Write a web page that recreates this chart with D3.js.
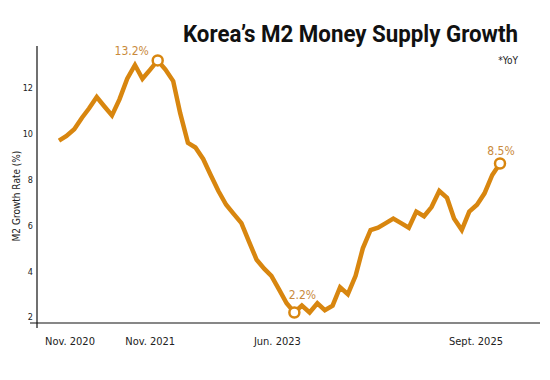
<!DOCTYPE html>
<html>
<head>
<meta charset="utf-8">
<script src="https://cdn.jsdelivr.net/npm/d3@7"></script>
<style>
    body { margin: 0; background: #fff; }
    svg { display: block; }
</style>
</head>
<body>
<svg id="chart" width="550" height="380"></svg>
<script>
/*
data: Korea M2 growth, YoY %, monthly from Nov. 2020 to Sept. 2025
*/
var firstMonth = "2020-11";
var lastMonth = "2025-09";
var m2Growth = [
    9.7, 9.9, 10.2, 10.7, 11.1, 11.6, 11.2, 10.8, 11.5, 12.4,
    13.0, 12.4, 12.8, 13.2, 12.8, 12.3, 10.9, 9.6, 9.4, 8.9,
    8.2, 7.5, 6.9, 6.5, 6.1, 5.3, 4.5, 4.1, 3.8, 3.2,
    2.6, 2.2, 2.5, 2.2, 2.6, 2.3, 2.5, 3.3, 3.0, 3.8,
    5.0, 5.8, 5.9, 6.1, 6.3, 6.1, 5.9, 6.6, 6.4, 6.8,
    7.5, 7.2, 6.3, 5.8, 6.6, 6.9, 7.4, 8.2, 8.7
];
var yTicks = [2, 4, 6, 8, 10, 12];
var xTickMonths = ["2020-11", "2021-11", "2023-06", "2025-09"];
var xTickLabels = ["Nov. 2020", "Nov. 2021", "Jun. 2023", "Sept. 2025"];
var markMonths = ["2021-12", "2023-06", "2025-09"];
var markLabels = ["13.2%", "2.2%", "8.5%"];

// layout (not data)
var xTickNudge = [11, 0, -17, -24];
var markLabelOffset = [{dx: -26, dy: -5}, {dx: 8, dy: -13}, {dx: 1, dy: -9}];

var orange = "#d8860f";
var labelOrange = "#c98a3c";
var numFont = "'DejaVu Sans Condensed', 'Liberation Sans Narrow', Roboto, sans-serif";

var parseMonth = d3.timeParse("%Y-%m");
var months = d3.timeMonth.range(parseMonth(firstMonth), d3.timeMonth.offset(parseMonth(lastMonth), 1));
var series = months.map(function(d, i){ return {date: d, value: m2Growth[i]}; });

var svg = d3.select("#chart");

var x = d3.scaleTime()
    .domain([parseMonth(firstMonth), parseMonth(lastMonth)])
    .range([59, 500]);

var y = d3.scaleLinear()
    .domain([1.74, 13.83])
    .range([323, 46]);

/*
axes: plain lines crossing at the lower left corner
*/
svg.append("line")
    .attr("x1", 37).attr("x2", 37)
    .attr("y1", y.range()[1]).attr("y2", 328)
    .style("stroke", "#111").style("stroke-width", 1.2);

svg.append("line")
    .attr("x1", 30).attr("x2", 540)
    .attr("y1", y.range()[0]).attr("y2", y.range()[0])
    .style("stroke", "#111").style("stroke-width", 1.2);

var yAxis = svg.append("g")
    .attr("transform", "translate(35,0)")
    .call(d3.axisLeft(y).tickValues(yTicks).tickSize(0).tickPadding(2));
yAxis.select(".domain").remove();
yAxis.selectAll("text")
    .style("font-family", numFont)
    .style("font-size", "9px")
    .style("fill", "#222");

svg.selectAll(".xlabel")
    .data(xTickMonths)
    .enter().append("text")
    .attr("class", "xlabel")
    .attr("x", function(d, i){ return x(parseMonth(d)) + xTickNudge[i]; })
    .attr("y", 345)
    .attr("text-anchor", "middle")
    .style("font-family", numFont)
    .style("font-size", "11px")
    .style("fill", "#222")
    .text(function(d, i){ return xTickLabels[i]; });

svg.append("text")
    .attr("transform", "translate(20,196) rotate(-90)")
    .attr("text-anchor", "middle")
    .style("font-family", numFont)
    .style("font-size", "10px")
    .style("fill", "#222")
    .text("M2 Growth Rate (%)");

/*
the line itself
*/
var line = d3.line()
    .x(function(d){ return x(d.date); })
    .y(function(d){ return y(d.value); });

svg.append("path")
    .datum(series)
    .attr("d", line)
    .style("fill", "none")
    .style("stroke", orange)
    .style("stroke-width", 4.5)
    .style("stroke-linejoin", "miter")
    .style("stroke-linecap", "butt");

/*
marked points: peak, trough, latest
*/
var marks = markMonths.map(function(m, i){
    var d = parseMonth(m);
    var p = series.find(function(s){ return +s.date === +d; });
    return {date: d, value: p.value, label: markLabels[i], off: markLabelOffset[i]};
});

svg.selectAll(".mark")
    .data(marks)
    .enter().append("circle")
    .attr("class", "mark")
    .attr("cx", function(d){ return x(d.date); })
    .attr("cy", function(d){ return y(d.value); })
    .attr("r", 5)
    .style("fill", "#fff")
    .style("stroke", orange)
    .style("stroke-width", 2.5);

svg.selectAll(".markLabel")
    .data(marks)
    .enter().append("text")
    .attr("class", "markLabel")
    .attr("x", function(d){ return x(d.date) + d.off.dx; })
    .attr("y", function(d){ return y(d.value) + d.off.dy; })
    .attr("text-anchor", "middle")
    .style("font-family", numFont)
    .style("font-size", "12px")
    .style("fill", labelOrange)
    .text(function(d){ return d.label; });

/*
title block
*/
svg.append("text")
    .attr("x", 518)
    .attr("y", 42)
    .attr("text-anchor", "end")
    .attr("textLength", 335)
    .attr("lengthAdjust", "spacingAndGlyphs")
    .style("font-family", "Roboto, 'DejaVu Sans', sans-serif")
    .style("font-weight", "bold")
    .style("font-size", "24px")
    .style("fill", "#111")
    .text("Korea\u2019s M2 Money Supply Growth");

svg.append("text")
    .attr("x", 518)
    .attr("y", 64)
    .attr("text-anchor", "end")
    .style("font-family", numFont)
    .style("font-size", "10px")
    .style("fill", "#222")
    .text("*YoY");
</script>
</body>
</html>
